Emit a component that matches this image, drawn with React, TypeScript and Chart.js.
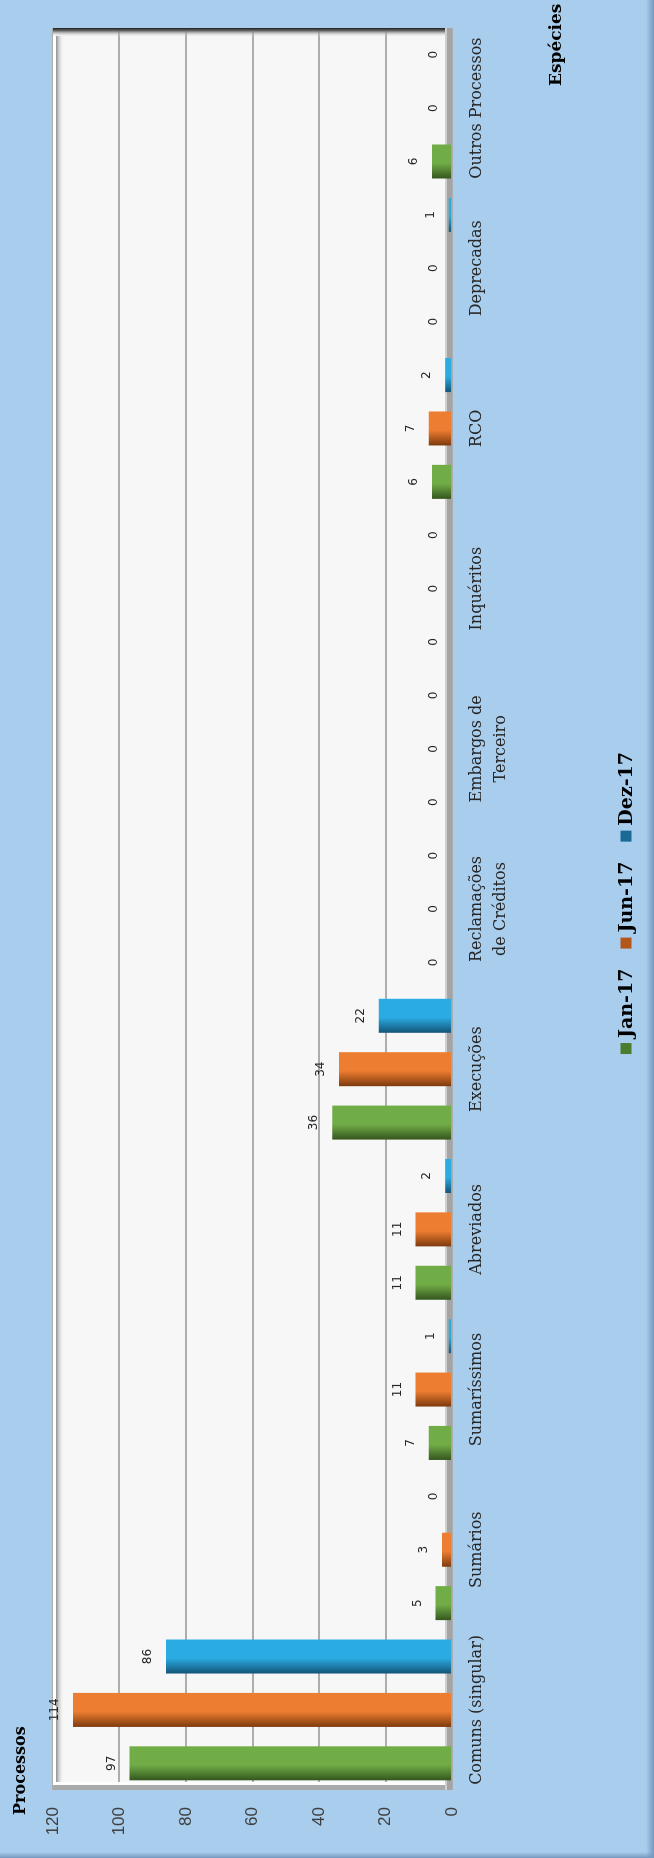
import React, { useEffect, useRef } from 'react';
import { Chart, registerables } from 'chart.js';

Chart.register(...registerables);

// ---- data ----
const categories: (string | string[])[] = [
  'Comuns (singular)',
  'Sumários',
  'Sumaríssimos',
  'Abreviados',
  'Execuções',
  ['Reclamações', 'de Créditos'],
  ['Embargos de', 'Terceiro'],
  'Inquéritos',
  'RCO',
  'Deprecadas',
  'Outros Processos',
];
const seriesNames = ['Jan-17', 'Jun-17', 'Dez-17'];
const jan17 = [97, 5, 7, 11, 36, 0, 0, 0, 6, 0, 6];
const jun17 = [114, 3, 11, 11, 34, 0, 0, 0, 7, 0, 0];
const dez17 = [86, 0, 1, 2, 22, 0, 0, 0, 2, 1, 0];
const yMin = 0;
const yMax = 120;
const yStep = 20;
const yTitle = 'Processos';
const xTitle = 'Espécies';

// ---- styles ----
const lightColors = ['#70ad47', '#ed7d31', '#2aabe2'];
const darkColors = ['#35561f', '#7d3a0e', '#135577'];
const legendColors = ['#4c7d2e', '#b3561b', '#1b6a96'];
const W = 1858;
const H = 654;
const BG = '#a8cded';

const decorPlugin = {
  id: 'decor',
  beforeDraw(chart: any) {
    const ctx = chart.ctx as CanvasRenderingContext2D;
    const a = chart.chartArea;
    ctx.save();
    ctx.fillStyle = BG;
    ctx.fillRect(0, 0, W, H);
    // outer border shading (bottom & left in unrotated space)
    let g = ctx.createLinearGradient(0, H - 8, 0, H);
    g.addColorStop(0, 'rgba(120,155,190,0)');
    g.addColorStop(1, '#7398bd');
    ctx.fillStyle = g;
    ctx.fillRect(0, H - 8, W, 8);
    g = ctx.createLinearGradient(6, 0, 0, 0);
    g.addColorStop(0, 'rgba(120,155,190,0)');
    g.addColorStop(1, '#7398bd');
    ctx.fillStyle = g;
    ctx.fillRect(0, 0, 6, H);
    // plot wall
    ctx.fillStyle = '#f7f7f7';
    ctx.fillRect(a.left, a.top, a.right - a.left, a.bottom - a.top);
    ctx.restore();
  },
  beforeDatasetsDraw(chart: any) {
    const ctx = chart.ctx as CanvasRenderingContext2D;
    const a = chart.chartArea;
    const w = a.right - a.left;
    const h = a.bottom - a.top;
    ctx.save();
    // top bevel
    ctx.fillStyle = '#ffffff';
    ctx.fillRect(a.left, a.top, w, 3);
    let g = ctx.createLinearGradient(0, a.top + 3, 0, a.top + 11);
    g.addColorStop(0, '#8f8f8f');
    g.addColorStop(1, 'rgba(247,247,247,0)');
    ctx.fillStyle = g;
    ctx.fillRect(a.left + 8, a.top + 3, w - 16, 8);
    // right dark edge
    g = ctx.createLinearGradient(a.right, 0, a.right - 9, 0);
    g.addColorStop(0, '#1e1e1e');
    g.addColorStop(0.3, '#666666');
    g.addColorStop(1, 'rgba(247,247,247,0)');
    ctx.fillStyle = g;
    ctx.fillRect(a.right - 9, a.top, 9, h);
    // left edge
    ctx.fillStyle = '#aaaaaa';
    ctx.fillRect(a.left, a.top, 5, h);
    ctx.fillStyle = '#fdfdfd';
    ctx.fillRect(a.left + 5, a.top + 3, 3, h - 8);
    // floor
    ctx.fillStyle = '#a4a4a4';
    ctx.fillRect(a.left, a.bottom - 5, w, 5);
    ctx.fillStyle = '#d0d0d0';
    ctx.fillRect(a.left, a.bottom - 7, w, 2);
    ctx.restore();

    // gradient fills for bars
    chart.data.datasets.forEach((ds: any, di: number) => {
      const meta = chart.getDatasetMeta(di);
      meta.data.forEach((el: any) => {
        const left = el.x - el.width / 2;
        const grad = ctx.createLinearGradient(left, 0, left + el.width, 0);
        grad.addColorStop(0, darkColors[di]);
        grad.addColorStop(0.45, lightColors[di]);
        grad.addColorStop(1, lightColors[di]);
        el.options = { ...el.options, backgroundColor: grad };
      });
    });
  },
  afterDatasetsDraw(chart: any) {
    const ctx = chart.ctx as CanvasRenderingContext2D;
    ctx.save();
    ctx.font = '12px "DejaVu Sans"';
    ctx.fillStyle = '#262626';
    ctx.textAlign = 'center';
    ctx.textBaseline = 'middle';
    chart.data.datasets.forEach((ds: any, di: number) => {
      const meta = chart.getDatasetMeta(di);
      meta.data.forEach((el: any, i: number) => {
        ctx.fillText(String(ds.data[i]), el.x, el.y - 18);
      });
    });
    ctx.restore();
  },
  afterDraw(chart: any) {
    const ctx = chart.ctx as CanvasRenderingContext2D;
    const a = chart.chartArea;
    ctx.save();
    ctx.fillStyle = '#000000';
    ctx.textBaseline = 'middle';
    ctx.textAlign = 'left';
    ctx.font = 'bold 16px "DejaVu Serif"';
    ctx.fillText(yTitle, 43, 21);
    ctx.font = 'bold 17px "DejaVu Serif"';
    ctx.fillText(xTitle, 1772, 557);

    // legend
    ctx.font = 'bold 19px "DejaVu Serif"';
    const box = 11;
    const gap = 5;
    const spacing = 20;
    const widths = seriesNames.map((n) => ctx.measureText(n).width);
    const total = widths.reduce((s, x) => s + x + box + gap, 0) + spacing * (seriesNames.length - 1);
    let u = (a.left + a.right) / 2 + 6 - total / 2;
    const v = 626;
    seriesNames.forEach((n, i) => {
      ctx.fillStyle = legendColors[i];
      ctx.fillRect(u, v - box / 2, box, box);
      u += box + gap;
      ctx.fillStyle = '#000000';
      ctx.fillText(n, u, v + 1);
      u += widths[i] + spacing;
    });
    ctx.restore();
  },
};

export default function App() {
  const ref = useRef<HTMLCanvasElement>(null);
  useEffect(() => {
    const canvas = ref.current;
    if (!canvas) return;
    const seriesData = [jan17, jun17, dez17];
    const chart = new Chart(canvas, {
      type: 'bar',
      data: {
        labels: categories,
        datasets: seriesNames.map((name, i) => ({
          label: name,
          data: seriesData[i],
          backgroundColor: lightColors[i],
          borderWidth: 0,
          categoryPercentage: 1,
          barPercentage: 0.637,
        })),
      },
      options: {
        animation: false,
        responsive: false,
        maintainAspectRatio: false,
        devicePixelRatio: 1,
        layout: { padding: { top: 53, right: 28, bottom: 0, left: 0 } },
        plugins: {
          legend: { display: false },
          tooltip: { enabled: false },
          title: { display: false },
        },
        scales: {
          x: {
            grid: { display: false, drawTicks: false },
            border: { display: false },
            ticks: {
              color: '#262626',
              padding: 12,
              maxRotation: 0,
              autoSkip: false,
              font: { family: '"DejaVu Serif"', size: 16, lineHeight: 1.55 },
            },
            afterFit: (s: any) => {
              s.height = 202;
            },
          },
          y: {
            min: yMin,
            max: yMax,
            grid: { color: '#adadad', lineWidth: 2, drawTicks: false },
            border: { display: false },
            ticks: {
              stepSize: yStep,
              color: '#404040',
              padding: 17,
              font: { family: '"Liberation Sans"', size: 17 },
            },
            afterFit: (s: any) => {
              s.width = 68;
            },
          },
        },
      },
      plugins: [decorPlugin],
    });
    return () => chart.destroy();
  }, []);

  return (
    <div style={{ position: 'absolute', left: 0, top: 0, width: 654, height: 1858, overflow: 'hidden' }}>
      <div
        style={{
          position: 'absolute',
          left: 0,
          top: 0,
          width: W,
          height: H,
          transformOrigin: '0 0',
          transform: `translate(0px, ${W}px) rotate(-90deg)`,
        }}
      >
        <canvas ref={ref} width={W} height={H} style={{ display: 'block', width: W, height: H }} />
      </div>
    </div>
  );
}
